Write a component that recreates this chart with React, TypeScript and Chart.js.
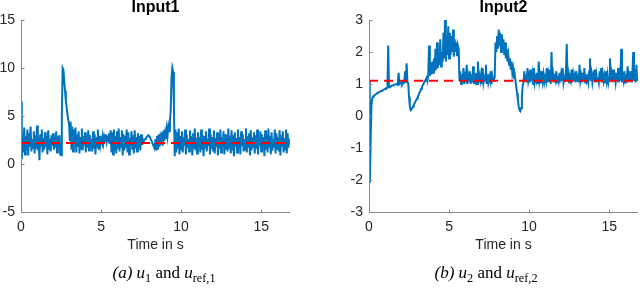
import React, { useEffect, useRef } from "react";
import { Chart, registerables } from "chart.js";

Chart.register(...registerables);

// ---------- data ----------
const SAMPLE_STEP = 0.05; // seconds between samples
const T_END = 16.8;

// Input1 samples, one row per second
const u1: number[] = [
  6.5, 0.5, 3.0, 1.2, 3.8, 1.0, 2.9, 1.5, 3.6, 0.9, 3.2, 1.8, 3.9, 1.3, 2.6, 1.7, 3.4, 1.1, 3.0, 1.6,
  4.0, 1.4, 2.8, 0.4, 3.1, 1.9, 3.6, 1.2, 2.7, 1.5, 3.3, 1.8, 2.9, 1.0, 3.5, 1.6, 2.6, 1.3, 3.0, 1.9,
  3.2, 1.5, 2.8, 1.7, 3.4, 1.2, 2.9, 1.9, 3.0, 1.0, 0.9, 5.0, 10.0, 9.8, 8.6, 7.6, 6.6, 5.9, 5.2, 4.6,
  4.2, 2.4, 4.4, 1.5, 3.9, 1.3, 3.6, 2.0, 3.8, 1.2, 3.1, 1.8, 3.4, 1.1, 2.8, 1.6, 3.7, 1.4, 2.9, 1.9,
  3.3, 1.2, 2.7, 1.7, 3.5, 1.4, 3.0, 1.9, 2.6, 1.3, 3.4, 1.6, 3.1, 1.0, 2.8, 1.8, 3.6, 1.5, 2.9, 2.0,
  2.6, 2.3, 2.9, 2.2, 2.8, 2.4, 3.1, 2.3, 2.7, 2.5, 3.2, 2.1, 3.5, 1.2, 3.3, 1.0, 3.6, 1.5, 2.9, 1.1,
  3.4, 1.6, 3.7, 1.3, 2.8, 1.8, 3.5, 0.9, 3.1, 1.4, 2.9, 1.7, 3.6, 1.2, 3.3, 1.0, 2.7, 1.9, 3.4, 1.5,
  3.0, 1.1, 3.5, 1.6, 2.8, 1.3, 3.2, 1.8, 2.9, 1.4, 3.1, 2.0, 2.6, 2.3, 2.5, 2.6, 2.7, 2.8, 2.9, 3.0,
  2.9, 2.8, 2.6, 2.4, 2.2, 2.0, 1.8, 1.7, 2.6, 1.4, 2.9, 1.5, 3.1, 1.8, 2.7, 2.1, 3.3, 1.9, 3.5, 2.4,
  3.2, 2.6, 3.6, 2.9, 3.9, 3.4, 4.5, 5.5, 9.0, 10.0, 9.6, 6.0, 0.8, 3.6, 1.2, 3.3, 1.6, 3.7, 1.0, 2.9,
  1.5, 3.4, 1.2, 2.8, 1.9, 3.6, 1.0, 3.1, 1.7, 2.6, 1.3, 3.5, 1.8, 2.9, 0.9, 3.2, 1.6, 3.7, 1.4, 2.7,
  1.1, 3.3, 1.9, 2.8, 1.2, 3.6, 1.5, 3.0, 0.8, 2.9, 1.7, 3.4, 1.3, 2.6, 1.9, 3.7, 1.0, 3.1, 1.6, 2.8,
  1.4, 3.5, 1.1, 2.7, 1.8, 3.3, 0.9, 3.0, 1.6, 3.6, 1.2, 2.8, 1.9, 3.4, 1.0, 3.1, 1.5, 2.6, 1.3, 3.7,
  1.7, 2.9, 1.1, 3.5, 1.4, 3.0, 0.8, 3.3, 1.8, 2.7, 1.2, 3.6, 1.6, 2.8, 1.0, 3.4, 1.9, 3.1, 1.3, 2.6,
  1.5, 3.7, 1.2, 2.9, 1.7, 3.2, 0.9, 3.5, 1.4, 2.8, 1.8, 3.3, 1.1, 3.0, 1.6, 3.6, 1.0, 2.7, 1.9, 3.4,
  1.3, 3.1, 1.6, 2.8, 0.8, 3.5, 1.5, 3.0, 1.2, 3.7, 1.8, 2.9, 1.0, 3.3, 1.4, 2.6, 1.7, 3.6, 1.1, 3.2,
  1.6, 2.8, 1.3, 3.5, 0.9, 3.0, 1.8, 3.4, 1.2, 2.7, 1.5, 3.6, 1.1, 3.2, 1.7, 2.4, 2.2,
];

// Input2 samples, one row per second
const u2: number[] = [
  1.1, -2.1, -0.9, 0.3, 0.55, 0.6, 0.63, 0.65, 0.67, 0.69, 0.71, 0.72, 0.74, 0.75, 0.77, 0.78, 0.79, 0.8, 0.82, 0.83,
  0.84, 0.86, 0.87, 0.88, 2.2, 0.9, 0.91, 0.92, 0.94, 0.95, 0.96, 0.97, 0.98, 0.99, 1.0, 0.98, 1.02, 1.35, 1.0, 1.03,
  1.04, 1.0, 1.06, 1.02, 1.05, 1.4, 1.03, 1.65, 1.05, 1.02, 0.6, 0.3, 0.18, 0.2, 0.25, 0.3, 0.35, 0.4, 0.45, 0.5,
  0.55, 0.6, 0.66, 0.72, 0.78, 0.84, 0.9, 0.95, 1.0, 1.05, 1.1, 1.15, 1.2, 1.1, 1.3, 2.2, 1.25, 1.5, 1.3, 1.7,
  1.35, 1.8, 1.4, 2.1, 1.45, 2.3, 1.5, 1.9, 1.6, 2.4, 1.55, 2.0, 1.7, 2.6, 1.8, 3.0, 1.7, 2.5, 1.9, 2.8,
  1.8, 2.6, 1.9, 2.5, 2.0, 2.7, 1.85, 2.4, 2.0, 2.3, 1.9, 2.2, 2.1, 1.1, 1.4, 1.0, 1.3, 1.05, 1.5, 1.0,
  1.2, 1.05, 1.6, 1.0, 1.25, 1.1, 1.4, 1.0, 1.3, 1.05, 1.55, 1.0, 1.2, 1.1, 1.35, 1.0, 1.7, 1.05, 1.25, 1.1,
  1.3, 1.0, 1.5, 1.05, 1.2, 1.1, 1.6, 1.0, 1.3, 1.05, 1.2, 1.1, 1.4, 1.0, 1.25, 1.1, 1.15, 1.2, 2.3, 2.0,
  2.5, 2.1, 2.7, 2.2, 2.6, 2.0, 2.55, 2.1, 2.4, 1.9, 2.3, 1.8, 2.1, 1.7, 1.9, 1.6, 1.8, 1.45, 1.7, 1.35,
  1.5, 1.25, 1.3, 1.1, 0.9, 0.7, 0.5, 0.3, 0.18, 0.15, 0.25, 0.6, 0.95, 1.05, 1.4, 1.1, 1.3, 1.05, 1.5, 1.1,
  1.25, 1.05, 1.45, 1.1, 1.3, 1.0, 1.5, 1.05, 1.2, 1.1, 1.35, 1.0, 1.7, 1.1, 1.25, 1.05, 1.4, 1.1, 1.3, 1.05,
  1.2, 1.1, 1.5, 1.05, 1.3, 1.1, 1.45, 1.0, 2.0, 1.1, 1.3, 1.05, 1.2, 1.1, 1.4, 1.05, 1.25, 1.1, 1.35, 1.05,
  1.3, 1.1, 1.5, 1.05, 1.2, 1.1, 1.4, 2.25, 1.1, 1.3, 1.05, 1.2, 1.1, 1.45, 1.05, 1.3, 1.1, 1.25, 1.05, 1.4,
  1.1, 1.3, 1.05, 1.6, 1.1, 1.25, 1.05, 1.35, 1.1, 1.5, 1.05, 1.3, 1.1, 1.2, 1.05, 1.4, 1.8, 1.1, 1.3, 1.05,
  1.25, 1.1, 1.45, 1.05, 1.3, 1.1, 1.2, 1.05, 1.4, 1.1, 1.5, 1.05, 1.3, 1.1, 1.25, 1.05, 1.4, 1.1, 1.3, 1.05,
  1.2, 1.8, 1.1, 1.3, 1.05, 1.45, 1.1, 1.25, 1.05, 1.35, 1.1, 1.5, 1.05, 1.3, 1.1, 2.1, 1.05, 1.25, 1.1, 1.4,
  1.05, 1.3, 1.1, 1.55, 1.05, 1.25, 1.1, 1.4, 1.05, 1.3, 2.0, 1.1, 1.25, 1.05, 1.6, 1.1, 1.3,
];

const refTimes: number[] = [0, T_END];
const uRef1: number[] = [2.2, 2.2];
const uRef2: number[] = [1.1, 1.1];

const xTickStep = 5;
const y1Range = { min: -5, max: 15, step: 5 };
const y2Range = { min: -3, max: 3, step: 1 };

// ---------- styling ----------
const SANS = '"Liberation Sans", Arial, Helvetica, sans-serif';
const SERIF = '"Liberation Serif", "Times New Roman", serif';
const BLUE = "#0072BD";
const RED = "#FF0000";
const TICK_COLOR = "#262626";

const matlabAxes = {
  id: "matlabAxes",
  afterDraw(chart: any, _args: any, opts: any) {
    const { ctx, chartArea, scales } = chart;
    const { left, right, top, bottom } = chartArea;
    const x = scales.x;
    const y = scales.y;
    ctx.save();
    ctx.strokeStyle = "#8a8a8a";
    ctx.lineWidth = 1;
    ctx.beginPath();
    const lx = Math.round(left) + 0.5;
    const by = Math.round(bottom) + 0.5;
    ctx.moveTo(lx, top);
    ctx.lineTo(lx, by);
    ctx.lineTo(right, by);
    x.ticks.forEach((t: any) => {
      const px = Math.round(x.getPixelForValue(t.value)) + 0.5;
      ctx.moveTo(px, by);
      ctx.lineTo(px, by - 3);
    });
    y.ticks.forEach((t: any) => {
      const py = Math.round(y.getPixelForValue(t.value)) + 0.5;
      ctx.moveTo(lx, py);
      ctx.lineTo(lx + 3, py);
    });
    ctx.stroke();
    ctx.fillStyle = "#000";
    ctx.font = `bold 16px ${SANS}`;
    ctx.textAlign = "center";
    ctx.textBaseline = "middle";
    ctx.fillText(opts.text, (left + right) / 2, 8);
    ctx.restore();
  },
};

type PanelProps = {
  left: number;
  title: string;
  values: number[];
  refValues: number[];
  range: { min: number; max: number; step: number };
  axisWidth: number;
  rightPad: number;
};

function Panel({ left, title, values, refValues, range, axisWidth, rightPad }: PanelProps) {
  const ref = useRef<HTMLCanvasElement | null>(null);
  useEffect(() => {
    if (!ref.current) return;
    const signal = values.map((v, i) => ({ x: +(i * SAMPLE_STEP).toFixed(2), y: v }));
    const refLine = refTimes.map((t, i) => ({ x: t, y: refValues[i] }));
    const tickFont = { family: SANS, size: 14 };
    const chart = new Chart(ref.current, {
      type: "line",
      data: {
        datasets: [
          {
            data: refLine,
            borderColor: RED,
            borderWidth: 2,
            borderDash: [9, 6],
            pointRadius: 0,
            fill: false,
          },
          {
            data: signal,
            borderColor: BLUE,
            borderWidth: 2,
            pointRadius: 0,
            tension: 0,
            fill: false,
          },
        ],
      },
      options: {
        animation: false,
        responsive: false,
        devicePixelRatio: 1,
        events: [],
        layout: { padding: { top: 20, right: rightPad, left: 0, bottom: 0 } },
        plugins: {
          legend: { display: false },
          tooltip: { enabled: false },
          title: { display: false },
          matlabAxes: { text: title },
        } as any,
        scales: {
          x: {
            type: "linear",
            min: 0,
            max: T_END,
            grid: { display: false, drawTicks: false },
            border: { display: false },
            ticks: {
              stepSize: xTickStep,
              includeBounds: false,
              padding: 7,
              color: TICK_COLOR,
              font: tickFont,
              maxRotation: 0,
              autoSkip: false,
            },
            title: {
              display: true,
              text: "Time in s",
              color: TICK_COLOR,
              font: tickFont,
              padding: { top: 0, bottom: 36 },
            },
            afterFit: (s: any) => {
              s.height = 78;
            },
          },
          y: {
            type: "linear",
            min: range.min,
            max: range.max,
            grid: { display: false, drawTicks: false },
            border: { display: false },
            ticks: {
              stepSize: range.step,
              padding: 6,
              color: TICK_COLOR,
              font: tickFont,
            },
            afterFit: (s: any) => {
              s.width = axisWidth;
            },
          },
        },
      },
      plugins: [matlabAxes],
    } as any);
    return () => chart.destroy();
  }, []);
  return (
    <div style={{ position: "absolute", left, top: 0, width: 320, height: 290 }}>
      <canvas ref={ref} width={320} height={290} style={{ display: "block" }} />
    </div>
  );
}

const subStyle: React.CSSProperties = {
  fontSize: "0.72em",
  fontStyle: "normal",
  position: "relative",
  top: "0.3em",
  lineHeight: 0,
};

function Caption({ left, letter, idx }: { left: number; letter: string; idx: string }) {
  return (
    <div
      style={{
        position: "absolute",
        left,
        top: 263,
        width: 320,
        textAlign: "center",
        fontFamily: SERIF,
        fontSize: 17,
        lineHeight: "20px",
        color: "#000",
        whiteSpace: "nowrap",
      }}
    >
      <i>({letter})</i>&nbsp;<i>u</i>
      <span style={subStyle}>{idx}</span> and <i>u</i>
      <span style={subStyle}>ref,{idx}</span>
    </div>
  );
}

export default function App() {
  return (
    <div
      style={{
        position: "fixed",
        left: 0,
        top: 0,
        width: 640,
        height: 290,
        background: "#fff",
        overflow: "hidden",
      }}
    >
      <Panel left={0} title="Input1" values={u1} refValues={uRef1} range={y1Range} axisWidth={21} rightPad={30} />
      <Panel left={320} title="Input2" values={u2} refValues={uRef2} range={y2Range} axisWidth={49} rightPad={2} />
      <Caption left={4} letter="a" idx="1" />
      <Caption left={326} letter="b" idx="2" />
    </div>
  );
}
